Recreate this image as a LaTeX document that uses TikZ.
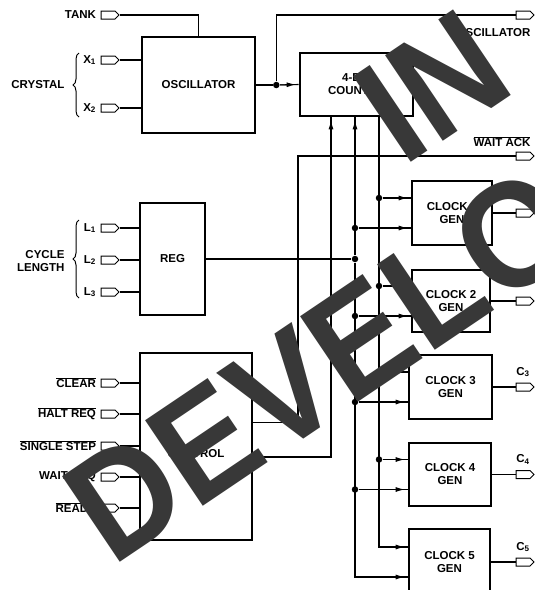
\documentclass[tikz,border=0pt]{standalone}
\usepackage{fontspec}
\usepackage{graphicx}
\setmainfont{Liberation Sans}
\usetikzlibrary{arrows.meta,calc,positioning,shapes.symbols,decorations.pathreplacing}
\newcommand{\diagfont}{\fontsize{11.5}{13}\bfseries\selectfont}
\newcommand{\ovl}[1]{$\overline{\mbox{#1}}$}

\begin{document}
\begin{tikzpicture}[x=1pt,y=-1pt,line width=1.1pt,
    blk/.style={draw,line width=2.6pt,inner sep=0pt,align=center,font=\diagfont},
    jack/.style={signal,signal to=east,draw,line width=1pt,minimum width=18pt,minimum height=8pt,inner sep=0pt},
    lbl/.style={inner sep=1pt,font=\diagfont},
    junc/.style={circle,fill,inner sep=0pt,minimum size=6.5pt},
    feed/.style={postaction={draw,-{Latex[length=9pt,width=5pt]},shorten >=3pt}},
    wm/.style={rotate=34,inner sep=0pt,text=black!78,font=\fontsize{150}{150}\bfseries\selectfont}]

\path[use as bounding box,fill=white] (0,0) rectangle (535,590);

% blocks
\node[blk,minimum width=113pt,minimum height=96pt] (osc) at (198.5,85) {OSCILLATOR};
\node[blk,minimum width=113pt,minimum height=63pt] (cnt) at (356.5,84.5) {4-BIT\\COUNTER};
\node[blk,minimum width=65pt,minimum height=112pt] (reg) at (172.5,259) {REG};
\node[blk,minimum width=112pt,minimum height=187pt] (ctl) at (196,446.5) {\raisebox{-10.5pt}[0pt][0pt]{CONTROL}};
\node[blk,minimum width=80pt,minimum height=64pt] (clk1) at (452,213) {CLOCK 1\\GEN};
\node[blk,minimum width=78pt,minimum height=62pt] (clk2) at (451,301) {CLOCK 2\\GEN};
\node[blk,minimum width=83pt,minimum height=64pt] (clk3) at (450.5,387) {CLOCK 3\\GEN};
\node[blk,minimum width=82pt,minimum height=63pt] (clk4) at (450,474.5) {CLOCK 4\\GEN};
\node[blk,minimum width=81pt,minimum height=66pt] (clk5) at (449.5,562) {CLOCK 5\\GEN};

% inputs
\node[jack] (tank) at (108,15) {};
\node[lbl,left=3pt of tank] (tanklbl) {TANK};
\node[jack] (x1) at (108,60) {};
\node[lbl,left=3pt of x1] (x1lbl) {X\textsubscript{1}};
\node[jack] (x2) at (108,108) {};
\node[lbl,left=3pt of x2] (x2lbl) {X\textsubscript{2}};
\draw[decorate,decoration={brace,amplitude=6pt},line width=1pt] (79,117) -- (79,53);
\node[lbl,anchor=east] (crystal) at (66,85) {CRYSTAL};

\foreach \nm/\yy/\tx in {l1/228/1,l2/260/2,l3/292/3} {
  \node[jack] (\nm) at (108,\yy) {};
  \node[lbl,left=3pt of \nm] (lbl\nm) {L\textsubscript{\tx}};
  \draw (\nm.east) -- (\nm.east -| reg.west);
}
\draw[decorate,decoration={brace,amplitude=6pt},line width=1pt] (79,298) -- (79,220);
\node[lbl,anchor=east,align=right] (cyclen) at (66,261) {CYCLE\\LENGTH};

\foreach \nm/\yy/\tx in {clr/383/\ovl{CLEAR},halt/414/\ovl{HALT REQ},sstep/446/\ovl{SINGLE STEP},wait/477/WAIT REQ,read/508/\ovl{READY}} {
  \node[jack] (\nm) at (108,\yy) {};
  \node[lbl,left=3pt of \nm] (lbl\nm) {\tx};
  \draw (\nm.east) -- (\nm.east -| ctl.west);
}

% outputs
\node[jack] (oscout) at (523,15) {};
\node[lbl,anchor=north east] (oscoutlbl) at (532,27) {OSCILLATOR};
\node[jack] (waitack) at (523,156) {};
\node[lbl,anchor=south east] (waitacklbl) at (532,148) {\ovl{WAIT ACK}};
\foreach \k in {1,...,5} {
  \node[jack] (c\k) at (clk\k.east -| 523,0) {};
  \draw (clk\k.east) -- (c\k.west);
}
\foreach \k in {3,4,5}
  \node[lbl,above=4pt of c\k] (lblc\k) {C\textsubscript{\k}};

% wiring
\draw (tank.east) -| (osc.north);
\draw (x1.east) -- (x1.east -| osc.west);
\draw (x2.east) -- (x2.east -| osc.west);
\node[junc] (jo) at ($(osc.east)+(20,0)$) {};
\draw (osc.east) -- (jo);
\draw[feed] (jo) -- (cnt.west);
\draw (jo) |- (oscout.west);

\coordinate (busA) at (355,0);
\coordinate (busB) at (379,0);
\coordinate (busC) at (331,0);
\coordinate (busD) at (298,0);
\foreach \k in {1,...,5} {
  \coordinate (inu\k) at ($(clk\k.west)+(0,-15)$);
  \coordinate (inl\k) at ($(clk\k.west)+(0,15)$);
}

\node[junc] (jr) at (busA |- reg.east) {};
\draw (reg.east) -- (jr);
\draw[feed] (jr) -- (jr |- cnt.south);
\draw[feed] (jr) |- (inl5);
\draw[feed] (cnt.south -| busB) |- (inu5);
\foreach \k in {1,...,4} {
  \node[junc] (a\k) at (busA |- inl\k) {};
  \node[junc] (b\k) at (busB |- inu\k) {};
  \draw[feed] (a\k) -- (inl\k);
  \draw[feed] (b\k) -- (inu\k);
}

\coordinate (ctlout) at ($(ctl.east)+(0,10.5)$);
\draw[feed] (ctlout) -| (busC |- cnt.south);
\coordinate (ctlack) at ($(ctl.east)+(0,-24)$);
\draw (waitack.west) -| (busD |- ctlack) -- (ctlack);

% stamp
\node[wm,anchor=base west] (wmdev) at (112,568) {\scalebox{0.93}[1]{DEVELO}};
\node[wm,anchor=base west] (wmin) at (403,168) {\scalebox{0.93}[1]{IN}};
\end{tikzpicture}
\end{document}
